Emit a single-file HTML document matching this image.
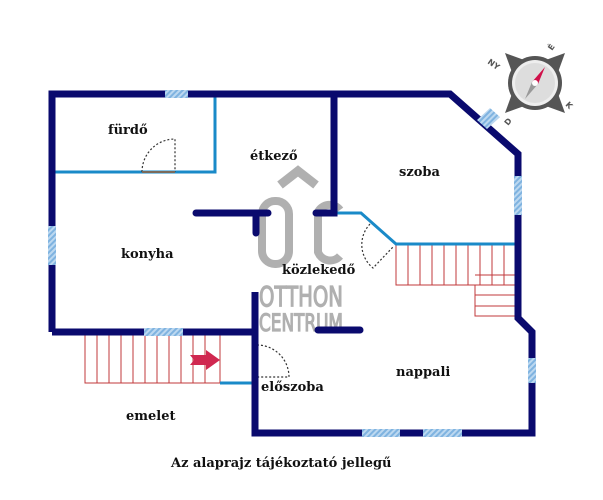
<!DOCTYPE html>
<html><head><meta charset="utf-8"><style>
body{margin:0;background:#fff;width:603px;height:500px;overflow:hidden}
svg{display:block}
text{font-family:"DejaVu Serif","Liberation Serif",serif;font-weight:bold;font-size:13px;fill:#111}
</style></head><body>
<svg width="603" height="500" viewBox="0 0 603 500">
<defs>
<pattern id="h" width="4" height="4" patternUnits="userSpaceOnUse" patternTransform="rotate(45)">
<rect width="4" height="4" fill="#bcd8f0"/><rect width="2" height="4" fill="#7fb3e0"/></pattern>
</defs>
<!-- logo -->
<g>
<path d="M280 185 L298 171 L316 185" stroke="#b0b0b0" stroke-width="9" fill="none"/>
<rect x="262" y="201" width="27" height="63" rx="13" fill="none" stroke="#b0b0b0" stroke-width="8"/>
<path d="M340 210 A13 13 0 0 0 318 212 V252 A13 13 0 0 0 340 256" fill="none" stroke="#b0b0b0" stroke-width="8"/>
<text x="259" y="306" textLength="84" lengthAdjust="spacingAndGlyphs" style="font-family:'DejaVu Sans Condensed','DejaVu Sans',sans-serif;font-weight:normal;font-size:28px;fill:#b0b0b0;stroke:#b0b0b0;stroke-width:1.2">OTTHON</text>
<text x="259" y="331" textLength="84" lengthAdjust="spacingAndGlyphs" style="font-family:'DejaVu Sans Condensed','DejaVu Sans',sans-serif;font-weight:normal;font-size:24px;fill:#b0b0b0;stroke:#b0b0b0;stroke-width:1.2">CENTRUM</text>
</g>
<!-- stairs -->
<g stroke="#c0393b" stroke-width="1" fill="none">
<rect x="396" y="244" width="119" height="41"/>
<path d="M408 244V285M420 244V285M432 244V285M444 244V285M456 244V285M468 244V285M480 244V285M492 244V285M504 244V285"/>
<rect x="475" y="285" width="40" height="31"/>
<path d="M475 275H515M475 295H515M475 306H515"/>
<rect x="85" y="335" width="135" height="48"/>
<path d="M97 335V383M109 335V383M121 335V383M133 335V383M145 335V383M157 335V383M169 335V383M181 335V383M193 335V383M205 335V383"/>
</g>
<path d="M190 355 L206 355 L206 350 L220 360 L206 370 L206 365 L190 365 L194 360Z" fill="#d02850"/>
<!-- light blue walls -->
<g stroke="#1a8ac8" stroke-width="3" fill="none">
<path d="M215 94V172H55"/>
<path d="M334 213H361L396 244H515"/>
<path d="M220 383H255"/>
</g>
<!-- doors -->
<g stroke="#333" stroke-width="1.2" stroke-dasharray="2,2" fill="none">
<path d="M142 172 A33 33 0 0 1 175 139 V172"/>
<path d="M257 345 A32 32 0 0 1 289 377 H257"/>
<path d="M370 224 A30 30 0 0 0 373 268 L393 247"/>
</g>
<path d="M142 172H175" stroke="#7a6a5a" stroke-width="2"/>
<!-- dark walls -->
<g stroke="#0a0a6e" stroke-width="7" fill="none" stroke-linecap="round" stroke-linejoin="miter">
<path d="M52 332V94H450L518 154V318L532 332V433H255V292" stroke-linecap="butt"/>
<path d="M52 332H255" stroke-linecap="butt"/>
<path d="M334 94V213H316"/>
<path d="M196 213H268M256 213V233"/>
<path d="M318 330H360"/>
</g>
<!-- windows -->
<g fill="url(#h)">
<rect x="165" y="90" width="23" height="8"/>
<rect x="48" y="226" width="8" height="39"/>
<rect x="144" y="328" width="39" height="8"/>
<rect x="514" y="176" width="8" height="39"/>
<rect x="528" y="358" width="8" height="25"/>
<rect x="362" y="429" width="38" height="8"/>
<rect x="423" y="429" width="39" height="8"/>
<polygon points="477,120 490,108 500,117 487,129"/>
</g>
<!-- compass -->
<g transform="translate(535,83)">
<polygon points="-30,-30 -8,-22 -22,-8" fill="#555"/>
<polygon points="30,-30 22,-8 8,-22" fill="#555"/>
<polygon points="30,30 8,22 22,8" fill="#555"/>
<polygon points="-30,30 -22,8 -8,22" fill="#555"/>
<circle r="27" fill="#555"/><circle r="23" fill="#eee"/><circle r="20" fill="#ddd"/>
<polygon points="10,-16 3,1 -3,-1" fill="#d0104a"/>
<polygon points="-10,16 -3,-1 3,1" fill="#999"/>
<circle r="3" fill="#fff"/>
<text x="-48" y="-20" transform="rotate(35 -48 -20)" style="font-family:'DejaVu Sans',sans-serif;font-size:8px;fill:#555">NY</text>
<text x="17" y="-32" transform="rotate(-55 17 -32)" style="font-family:'DejaVu Sans',sans-serif;font-size:8px;fill:#555">É</text>
<text x="30" y="22" transform="rotate(45 30 22)" style="font-family:'DejaVu Sans',sans-serif;font-size:8px;fill:#555">K</text>
<text x="-27" y="43" transform="rotate(-50 -27 43)" style="font-family:'DejaVu Sans',sans-serif;font-size:8px;fill:#555">D</text>
</g>
<!-- labels -->
<text x="108" y="134">fürdő</text>
<text x="250" y="160">étkező</text>
<text x="399" y="176">szoba</text>
<text x="121" y="258">konyha</text>
<text x="282" y="274">közlekedő</text>
<text x="396" y="376">nappali</text>
<text x="261" y="391">előszoba</text>
<text x="126" y="420">emelet</text>
<text x="171" y="467">Az alaprajz tájékoztató jellegű</text>
</svg>
</body></html>
